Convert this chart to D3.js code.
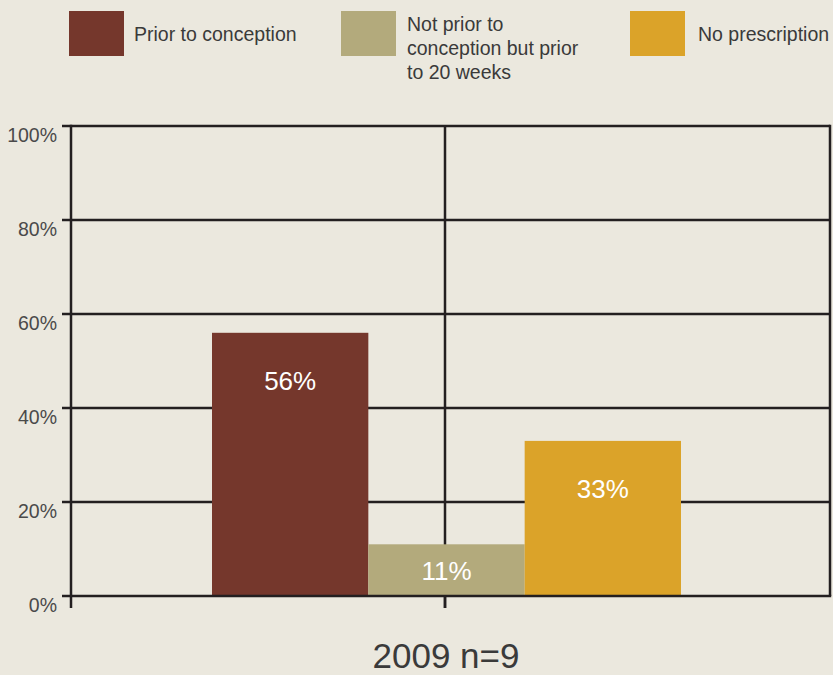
<!DOCTYPE html>
<html>
<head>
<meta charset="utf-8">
<script src="https://cdn.jsdelivr.net/npm/d3@7/dist/d3.min.js"></script>
<style>
  html, body { margin: 0; padding: 0; background: #EBE8DE; }
  svg { display: block; }
  text { font-family: "Liberation Sans", Arial, sans-serif; }
</style>
</head>
<body>
<svg id="chart" width="833" height="675"></svg>
<script>
const categories = ["2009 n=9"];
const seriesNames = ["Prior to conception", "Not prior to conception but prior to 20 weeks", "No prescription"];
const legendLines = [["Prior to conception"], ["Not prior to", "conception but prior", "to 20 weeks"], ["No prescription"]];
const seriesValues = [56, 11, 33];
const seriesColors = ["#75372C", "#B3AA7C", "#DBA329"];
const yTicks = [0, 20, 40, 60, 80, 100];

const svg = d3.select("#chart");
const W = 833, H = 675;
svg.append("rect").attr("width", W).attr("height", H).attr("fill", "#EBE8DE");

const plot = { left: 71, right: 830, top: 126, bottom: 596 };
const lineColor = "#231F20";

const y = d3.scaleLinear().domain([0, 100]).range([plot.bottom, plot.top]);
const xCat = d3.scaleBand().domain(categories).range([plot.left, plot.right - 8]).paddingInner(0).paddingOuter(0);
const groupCenter = xCat(categories[0]) + xCat.bandwidth() / 2;
const groupWidth = 469;
const xSeries = d3.scaleBand().domain(seriesNames)
  .range([groupCenter - groupWidth / 2, groupCenter + groupWidth / 2]).padding(0);

// gridlines
const g = svg.append("g");
g.selectAll("line.grid").data(yTicks.filter(d => d > 0)).enter().append("line")
  .attr("x1", plot.left - 9).attr("x2", plot.right)
  .attr("y1", d => y(d)).attr("y2", d => y(d))
  .attr("stroke", lineColor).attr("stroke-width", 2.5);

// vertical gridline at middle
g.append("line")
  .attr("x1", 445).attr("x2", 445)
  .attr("y1", plot.top).attr("y2", plot.bottom + 12)
  .attr("stroke", lineColor).attr("stroke-width", 2.5);

// right border
g.append("line")
  .attr("x1", plot.right).attr("x2", plot.right)
  .attr("y1", plot.top - 1.2).attr("y2", plot.bottom)
  .attr("stroke", lineColor).attr("stroke-width", 2.5);

// bars
const bars = svg.append("g");
bars.selectAll("rect").data(seriesValues).enter().append("rect")
  .attr("x", (d, i) => xSeries(seriesNames[i]))
  .attr("width", xSeries.bandwidth())
  .attr("y", d => y(d))
  .attr("height", d => y(0) - y(d))
  .attr("fill", (d, i) => seriesColors[i]);

bars.selectAll("text").data(seriesValues).enter().append("text")
  .attr("x", (d, i) => xSeries(seriesNames[i]) + xSeries.bandwidth() / 2)
  .attr("y", d => (y(0) - y(d) > 100) ? y(d) + 57 : (y(d) + y(0)) / 2 + 10)
  .attr("text-anchor", "middle")
  .attr("fill", "#ffffff")
  .attr("font-size", 26)
  .text(d => d + "%");

// baseline and left axis
svg.append("line")
  .attr("x1", plot.left - 9).attr("x2", plot.right + 1.2)
  .attr("y1", plot.bottom).attr("y2", plot.bottom)
  .attr("stroke", lineColor).attr("stroke-width", 2.5);
svg.append("line")
  .attr("x1", plot.left).attr("x2", plot.left)
  .attr("y1", plot.top - 1.2).attr("y2", plot.bottom + 12)
  .attr("stroke", lineColor).attr("stroke-width", 2.5);
svg.append("line")
  .attr("x1", 445).attr("x2", 445)
  .attr("y1", plot.bottom).attr("y2", plot.bottom + 12)
  .attr("stroke", lineColor).attr("stroke-width", 2.5);

// y tick labels
svg.append("g").selectAll("text").data(yTicks).enter().append("text")
  .attr("x", 57).attr("y", d => y(d) + 16)
  .attr("text-anchor", "end")
  .attr("fill", "#4a4a4a")
  .attr("font-size", 19.5)
  .text(d => d + "%");

// category label
svg.append("text")
  .attr("x", 446).attr("y", 668)
  .attr("text-anchor", "middle")
  .attr("fill", "#3a3a3a")
  .attr("font-size", 35)
  .text(categories[0]);

// legend
const legendX = [69, 341, 630];
const legendOffset = [65, 66, 68];
const leg = svg.append("g");
legendLines.forEach((lines, i) => {
  leg.append("rect").attr("x", legendX[i]).attr("y", 11).attr("width", 55).attr("height", 45)
    .attr("fill", seriesColors[i]);
  const tx = legendX[i] + legendOffset[i];
  const startY = lines.length === 1 ? 41 : 31;
  lines.forEach((ln, j) => {
    leg.append("text").attr("x", tx).attr("y", startY + j * 24)
      .attr("fill", "#3a3a3a").attr("font-size", 19.5).text(ln);
  });
});
</script>
</body>
</html>
